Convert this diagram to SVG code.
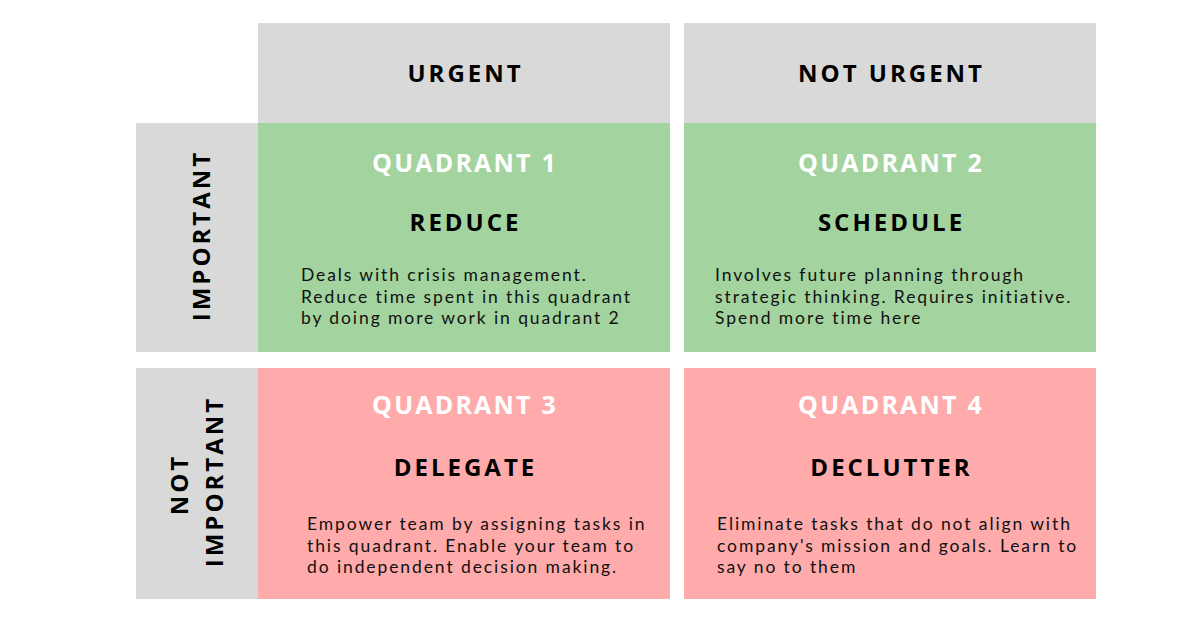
<svg xmlns="http://www.w3.org/2000/svg" width="1200" height="630" viewBox="0 0 1200 630">
<style>
.gray{fill:#d9d9d9}
.green{fill:#a3d39e}
.pink{fill:#ffabab}
.hd{font-family:"Open Sans","DejaVu Sans",sans-serif;font-weight:700;font-size:24px;letter-spacing:3px;fill:#000;text-anchor:middle}
.qd{font-family:"Open Sans","DejaVu Sans",sans-serif;font-weight:700;font-size:25px;letter-spacing:2.2px;fill:#fff;text-anchor:middle}
.bd{font-family:"Lato","Liberation Sans",sans-serif;font-size:17.5px;letter-spacing:1.9px;fill:#111}
</style>
<rect width="1200" height="630" fill="#fff"/>
<g id="header-urgent">
<rect class="gray" x="258" y="23" width="412" height="100"/>
<text class="hd" x="465.5" y="82">URGENT</text>
</g>
<g id="header-not-urgent">
<rect class="gray" x="684" y="23" width="412" height="100"/>
<text class="hd" x="891.5" y="82">NOT URGENT</text>
</g>
<g id="row-important">
<rect class="gray" x="136" y="123" width="122" height="229"/>
<text class="hd" transform="translate(210,235.5) rotate(-90)">IMPORTANT</text>
</g>
<g id="row-not-important">
<rect class="gray" x="136" y="368" width="122" height="231"/>
<text class="hd" transform="translate(188,484.5) rotate(-90)">NOT</text>
<text class="hd" transform="translate(223,481.5) rotate(-90)">IMPORTANT</text>
</g>
<g id="quadrant-1">
<rect class="green" x="258" y="123" width="412" height="229"/>
<text class="qd" x="465" y="172">QUADRANT 1</text>
<text class="hd" x="465.5" y="231">REDUCE</text>
<text class="bd" x="301" y="281">Deals with crisis management.</text>
<text class="bd" x="301" y="303">Reduce time spent in this quadrant</text>
<text class="bd" x="301" y="324">by doing more work in quadrant 2</text>
</g>
<g id="quadrant-2">
<rect class="green" x="684" y="123" width="412" height="229"/>
<text class="qd" x="891" y="172">QUADRANT 2</text>
<text class="hd" x="891.5" y="231">SCHEDULE</text>
<text class="bd" x="715" y="281">Involves future planning through</text>
<text class="bd" x="715" y="303">strategic thinking. Requires initiative.</text>
<text class="bd" x="715" y="324">Spend more time here</text>
</g>
<g id="quadrant-3">
<rect class="pink" x="258" y="368" width="412" height="231"/>
<text class="qd" x="465" y="414">QUADRANT 3</text>
<text class="hd" x="465.5" y="476">DELEGATE</text>
<text class="bd" x="307" y="530">Empower team by assigning tasks in</text>
<text class="bd" x="307" y="552">this quadrant. Enable your team to</text>
<text class="bd" x="307" y="573">do independent decision making.</text>
</g>
<g id="quadrant-4">
<rect class="pink" x="684" y="368" width="412" height="231"/>
<text class="qd" x="891" y="414">QUADRANT 4</text>
<text class="hd" x="891.5" y="476">DECLUTTER</text>
<text class="bd" x="717" y="530">Eliminate tasks that do not align with</text>
<text class="bd" x="717" y="552">company's mission and goals. Learn to</text>
<text class="bd" x="717" y="573">say no to them</text>
</g>
<g id="connectors"></g>
</svg>
